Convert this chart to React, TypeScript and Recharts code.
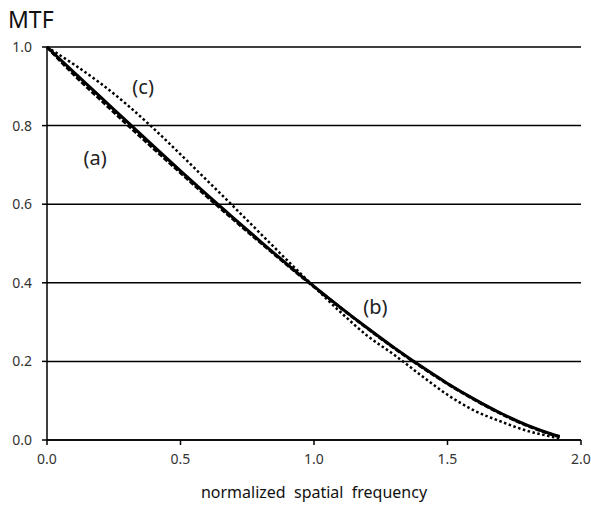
import { LineChart, Line, XAxis, YAxis, CartesianGrid, ReferenceDot } from 'recharts';

const FREQ = [0, 0.1, 0.2, 0.3, 0.4, 0.5, 0.6, 0.7, 0.8, 0.9, 1.0, 1.1, 1.2, 1.3, 1.4, 1.5, 1.6, 1.7, 1.8, 1.9, 1.92];

// (a) dashed
const MTF_A = [1.0, 0.930, 0.866, 0.803, 0.741, 0.680, 0.619, 0.560, 0.502, 0.445, 0.390, 0.336, 0.284, 0.234, 0.187, 0.143, 0.103, 0.067, 0.036, 0.012, 0.008];
// (b) solid
const MTF_B = [1.0, 0.936, 0.873, 0.810, 0.747, 0.685, 0.624, 0.564, 0.505, 0.447, 0.391, 0.337, 0.285, 0.235, 0.188, 0.144, 0.104, 0.068, 0.037, 0.013, 0.009];
// (c) dotted
const MTF_C = [1.0, 0.956, 0.908, 0.853, 0.792, 0.727, 0.660, 0.593, 0.525, 0.457, 0.390, 0.325, 0.265, 0.217, 0.165, 0.115, 0.075, 0.047, 0.023, 0.007, 0.004];

const X_TICKS = [0, 0.5, 1.0, 1.5, 2.0];
const Y_TICKS = [0, 0.2, 0.4, 0.6, 0.8, 1.0];

const data = FREQ.map((f, i) => ({ f, a: MTF_A[i], b: MTF_B[i], c: MTF_C[i] }));

const FONT = '"Noto Sans", "Open Sans", sans-serif';

const CurveLabel = ({ text }: { text: string }) => ({ viewBox }: any) => (
  <text
    x={viewBox.x}
    y={viewBox.y}
    textAnchor="middle"
    dominantBaseline="central"
    fontSize={20}
    fontFamily={FONT}
    fill="#222"
  >
    {text}
  </text>
);

export default function App() {
  return (
    <div style={{ position: 'absolute', left: 0, top: 0, width: 591, height: 505, background: '#fff' }}>
      <div
        style={{
          position: 'absolute', left: 8, top: 3, fontSize: 23,
          fontFamily: FONT, color: '#111',
        }}
      >
        MTF
      </div>
      <LineChart
        width={591}
        height={505}
        data={data}
        margin={{ top: 47, right: 10, bottom: 25, left: 0 }}
      >
        <CartesianGrid vertical={false} stroke="#000" strokeWidth={1.5} />
        <XAxis
          dataKey="f"
          type="number"
          domain={[0, 2]}
          ticks={X_TICKS}
          tickFormatter={(v: number) => v.toFixed(1)}
          stroke="#000"
          strokeWidth={1.5}
          tickSize={5}
          tickMargin={9}
          height={40}
          tick={{ fontSize: 14, fontFamily: FONT, fill: '#333' }}
          label={{
            value: 'normalized\u00a0\u00a0spatial\u00a0\u00a0frequency',
            position: 'insideBottom',
            offset: -18,
            style: { fontSize: 16, fontFamily: FONT, fill: '#111' },
          }}
        />
        <YAxis
          type="number"
          domain={[0, 1]}
          ticks={Y_TICKS}
          tickFormatter={(v: number) => v.toFixed(1)}
          stroke="#000"
          strokeWidth={1.5}
          tickSize={5}
          tickMargin={10}
          width={47}
          tick={{ fontSize: 14, fontFamily: FONT, fill: '#333' }}
        />
        <Line
          type="monotone"
          dataKey="a"
          stroke="#000"
          strokeWidth={3}
          strokeDasharray="5 2"
          dot={false}
          isAnimationActive={false}
        />
        <Line
          type="monotone"
          dataKey="b"
          stroke="#000"
          strokeWidth={3}
          dot={false}
          isAnimationActive={false}
        />
        <Line
          type="monotone"
          dataKey="c"
          stroke="#000"
          strokeWidth={2.5}
          strokeDasharray="2.5 2.5"
          dot={false}
          isAnimationActive={false}
        />
        <ReferenceDot x={0.18} y={0.72} r={0} label={CurveLabel({ text: '(a)' })} />
        <ReferenceDot x={1.23} y={0.34} r={0} label={CurveLabel({ text: '(b)' })} />
        <ReferenceDot x={0.36} y={0.9} r={0} label={CurveLabel({ text: '(c)' })} />
      </LineChart>
    </div>
  );
}
